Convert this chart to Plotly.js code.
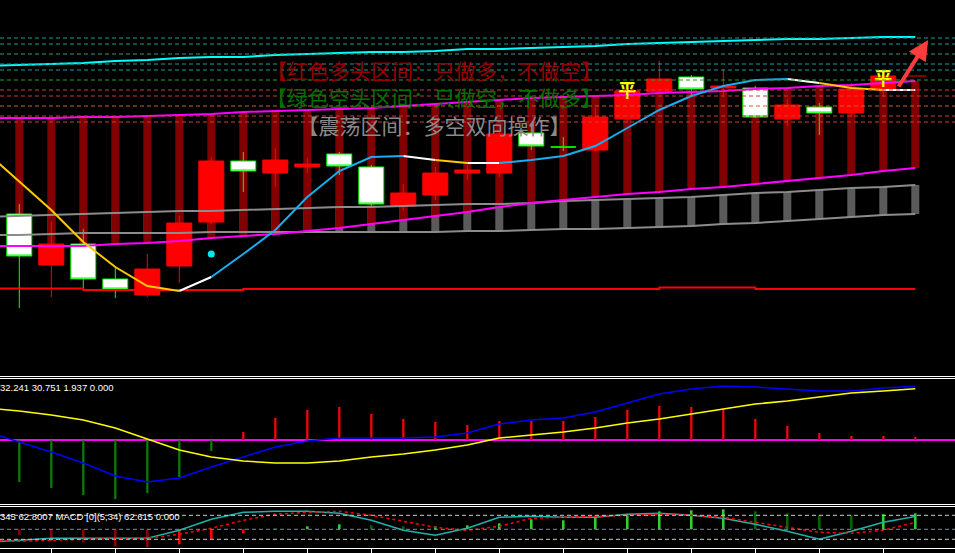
<!DOCTYPE html>
<html><head><meta charset="utf-8">
<script src="https://cdn.plot.ly/plotly-3.0.1.min.js"></script>
<style>html,body{margin:0;padding:0;background:#000;overflow:hidden}#chart{width:955px;height:553px}</style>
</head><body><div id="chart"></div>
<script>
// ---------- data ----------
const idx = [-1,0,1,2,3,4,5,6,7,8,9,10,11,12,13,14,15,16,17,18,19,20,21,22,23,24,25,26,27,28];
const candleIdx = [0,1,2,3,4,5,6,7,8,9,10,11,12,13,14,15,16,17,18,19,20,21,22,23,24,25,26,27];
const open  = [161,110,131, 96, 80,109,153,214,202,208,221,208,169,180,202,202,242,228,225,256,283,298,287,287,256,268,262,286];
const high  = [171,153,146,108,121,159,218,223,227,217,223,210,191,208,210,243,252,238,267,292,314,300,306,289,276,272,292,305];
const low   = [ 67, 78, 87, 77, 78, 92,151,183,188,202,200,168,164,175,195,198,225,224,223,252,282,280,280,257,249,240,258,278];
const close = [119,131, 96, 86,106,152,214,204,215,211,209,171,182,202,205,241,229,228,258,284,296,286,289,258,270,262,286,299];

const cyanBand     = [309,310,311,312,314,315,317,318,318,320,321,322,323,323,324,326,326,327,328,329,331,332,333,334,335,336,336,337,338,338];
const magentaUpper = [257,257,257,258,258,259,260,261,263,264,265,266,267,269,271,273,275,277,278,279,280,282,283,284,286,287,289,290,292,294];
const magentaLower = [129,129,129,129,131,132,134,137,139,141,144,147,151,155,159,163,168,172,175,178,181,183,186,188,191,194,197,200,204,207];
const grayUpper    = [158,159,160,161,162,163,164,164,165,166,167,168,168,169,170,171,171,172,174,175,176,177,178,180,182,183,185,187,188,190];
const grayLower    = [140,140,141,142,142,142,142,143,143,143,143,143,143,143,143,144,144,145,146,146,147,148,149,151,152,154,156,158,160,161];
const supportLine  = [86.5,86.5,86.5,85,85,85,85,85,86,86,86,86,86,86,86,86,86,86,86,86,86,87.5,87.5,87.5,86,86,86,86,86,86];
const ma           = [222,193,165,133,108,89,84,98,121,145,178,204,218,219,215,212,212,215,219,229,247,265,279,289,295,296,292,287,285,285];
const maTrend = 'YYYYYYWBBBBBBWYWBBBBBBBBBWYYW'; // colour state of each segment
const signalDotIdx = [6], signalDotLevel = [121];
const pingIdx = [19,27], pingLevel = [283,295];
const mainLevels = [337,331,321,311,305,295,285,279,269,259,253];

const macd   = [4.8,-1.2,-7.2,-13.8,-21.6,-25.2,-22.8,-16.2,-10.2,-4.2,-0.6,1.2,1.2,1.2,1.8,4.2,9.6,12.0,13.2,16.8,22.2,27.6,30.6,32.4,31.8,30.6,29.4,29.4,31.2,32.241];
const signal = [19.2,17.4,15.0,12.0,7.2,0.6,-6.0,-10.2,-12.6,-13.8,-13.8,-12.6,-10.2,-8.4,-6.0,-3.0,1.2,3.0,4.8,7.2,10.2,12.6,15.6,18.6,21.6,23.4,25.8,28.2,29.4,30.751];
const hist   = [-20,-25.2,-28.8,-33.0,-35.4,-31.8,-22.2,-6.6,4.8,13.2,18.0,19.8,15.6,12.6,10.8,9.0,11.4,11.4,11.4,13.8,18.0,20.4,19.8,18.6,12.6,8.4,4.2,2.4,2.4,1.937];

const osc       = [37,39,41,41,41,41,49,60,67,68,68,66,59,49,44,51,62,63,62,62,65,66,64,61,55,48,40,48,57,62.8007];
const oscSignal = [39,38,39,40,41,41,45,51,59,65,67,68,64,58,52,49,53,61,62,63,64,65,64,62,57,52,47,46,49,57];
const oscHist   = [-3,-6,-12,-13,-17,-18,-15,-10,-4,1,3,5,4,3,3,4,6,10,9,13,14,18,19,20,18,16,14,14,15,16];
const oscState  = 'DDDDDDUUUgGGggGGGGGGGGGGggggGG';
const oscLevels = [64,50,40];
const oscBase = 50;
const tickIdx = [1,3,5,7,9,11,13,15,17,19,21,23,25,27];

const textLines = ['【红色多头区间：只做多，不做空】','【绿色空头区间：只做空，不做多】','【震荡区间：多空双向操作】'];
const macdLabel = '32.241 30.751 1.937 0.000';
const oscLabel  = '345 62.8007 MACD [0](5,34) 62.615 0.000';

// ---------- styles ----------
const levelColors = ['#1a9a9a','#1a9a9a','#3a9a72','#1a9a9a','#1a9a9a','#28a028','#c83c3c','#c83c3c','#c0642e','#c83c3c','#c83c3c'];
const textColors = ['#960000','#007000','#8a8a8a'];
const maColors = {Y:'#ffc800', W:'#ffffff', B:'#18aef0'};
const oscColors = {D:'#8b0000', U:'#ff0000', g:'#006400', G:'#32cd32'};
const H = 553;
const py = px => 1 - px / H;
const CJK = 'Noto Sans CJK SC';

const sub = (a, b) => a.map((v, i) => v - b[i]);

function segTrace(c) {
  const xs = [], ys = [];
  let on = false;
  for (let j = 0; j < maTrend.length; j++) {
    if (maTrend[j] === c) {
      if (!on) { if (xs.length) { xs.push(null); ys.push(null); } xs.push(idx[j]); ys.push(ma[j]); on = true; }
      xs.push(idx[j + 1]); ys.push(ma[j + 1]);
    } else on = false;
  }
  return {type:'scatter', mode:'lines', x:xs, y:ys, line:{color:maColors[c], width:2}, connectgaps:false, xaxis:'x', yaxis:'y'};
}
const lineT = (y, color, width, ax, extra) => Object.assign({type:'scatter', mode:'lines', x:idx, y:y, line:{color:color, width:width}, xaxis:'x', yaxis:ax}, extra || {});

const last = candleIdx.length - 1;
const traces = [
  {type:'bar', x:idx, base:grayLower, y:sub(grayUpper, grayLower), width:0.25, marker:{color:'#5a5a5a', line:{width:0}}, xaxis:'x', yaxis:'y'},
  {type:'bar', x:idx, base:magentaLower, y:sub(magentaUpper, magentaLower), width:0.25, marker:{color:'#820000', line:{width:0}}, xaxis:'x', yaxis:'y'},
  {type:'bar', x:idx, y:hist, width:0.07, marker:{color:hist.map(v => v < 0 ? '#008000' : '#ff0000'), line:{width:0}}, xaxis:'x', yaxis:'y2'},
  {type:'bar', x:idx, base:oscBase, y:oscHist, width:0.08, marker:{color:oscState.split('').map(s => oscColors[s]), line:{width:0}}, xaxis:'x', yaxis:'y3'},
  {type:'candlestick', x:candleIdx, open:open, high:high, low:low, close:close, whiskerwidth:0,
   increasing:{line:{color:'#ff0000', width:1}, fillcolor:'#ff0000'},
   decreasing:{line:{color:'#00ff00', width:1}, fillcolor:'#ffffff'}, xaxis:'x', yaxis:'y'},
  lineT(grayUpper, '#8c8c8c', 2, 'y'),
  lineT(grayLower, '#8c8c8c', 2, 'y'),
  lineT(magentaUpper, '#ff00ff', 2, 'y'),
  lineT(magentaLower, '#ff00ff', 2, 'y'),
  lineT(cyanBand, '#00ffff', 2, 'y'),
  lineT(supportLine, '#ff0000', 2, 'y', {line:{color:'#ff0000', width:2, shape:'hv'}}),
  segTrace('W'), segTrace('Y'), segTrace('B'),
  {type:'scatter', mode:'markers', x:signalDotIdx, y:signalDotLevel, marker:{color:'#00e8e8', size:7}, xaxis:'x', yaxis:'y'},
  {type:'scatter', mode:'text', x:pingIdx, y:pingLevel, text:pingIdx.map(() => '平'), textposition:'middle center',
   textfont:{family:CJK, size:18, color:'#ffff00', weight:'bold'}, xaxis:'x', yaxis:'y'},
  {type:'scatter', mode:'lines', x:[candleIdx[last] + 0.65, candleIdx[last] + 1.35], y:[close[last], close[last]], line:{color:'#ff0000', width:1}, xaxis:'x', yaxis:'y'},
  lineT(macd, '#0000ff', 1.5, 'y2'),
  lineT(signal, '#ffff00', 1.5, 'y2'),
  lineT(osc, '#20b2aa', 1.5, 'y3'),
  lineT(oscSignal, '#ff0000', 1.5, 'y3', {line:{color:'#ff0000', width:1.5, dash:'3px,3px'}})
];

const shapes = [];
mainLevels.forEach((v, k) => shapes.push({type:'line', xref:'paper', x0:0, x1:1, yref:'y', y0:v, y1:v, line:{color:levelColors[k], width:1, dash:'4px,3px'}}));
oscLevels.forEach((v, k) => shapes.push({type:'line', xref:'paper', x0:0, x1:1, yref:'y3', y0:v, y1:v, line:{color:k === 1 ? '#7a8a9a' : '#c8c8c8', width:1, dash:'4px,3px'}}));
[376.5, 378.5, 504.5, 506.5].forEach(p => shapes.push({type:'line', xref:'paper', x0:0, x1:1, yref:'paper', y0:py(p), y1:py(p), line:{color:'#ffffff', width:1}}));

const zoneText = textLines.map((t, k) => '<span style="color:' + textColors[k] + '">' + t + '</span>').join('<br>');

const annotations = [
  {xref:'paper', yref:'paper', x:434/955, y:py(97), xanchor:'center', yanchor:'middle', align:'center', showarrow:false,
   text:zoneText, font:{family:CJK, size:21, color:'#960000'}},
  {xref:'paper', yref:'paper', x:-2/955, y:py(387), xanchor:'left', yanchor:'middle', showarrow:false, text:macdLabel, font:{family:'Liberation Sans', size:9.5, color:'#ffffff'}},
  {xref:'paper', yref:'paper', x:-2/955, y:py(516), xanchor:'left', yanchor:'middle', showarrow:false, text:oscLabel, font:{family:'Liberation Sans', size:9.5, color:'#ffffff'}},
  {xref:'x', yref:'y', x:candleIdx[last] + 1.4, y:cyanBand[cyanBand.length - 1] - 3, axref:'x', ayref:'y', ax:candleIdx[last] + 0.45, ay:ma[ma.length - 1] + 2,
   showarrow:true, text:'', arrowhead:2, arrowsize:1, arrowwidth:4, arrowcolor:'#ff3c3c', standoff:0, startstandoff:0}
];

const layout = {
  width:955, height:553, margin:{l:0, r:0, t:0, b:0, pad:0},
  paper_bgcolor:'#000', plot_bgcolor:'#000', showlegend:false, barmode:'overlay', boxgap:0.22, boxgroupgap:0,
  font:{family:'Liberation Sans', color:'#fff'},
  xaxis:{anchor:'y3', range:[-19.3/32, (955 - 19.3)/32], showgrid:false, zeroline:false, showline:true, linecolor:'#ffffff', linewidth:1,
         ticks:'outside', tickmode:'array', tickvals:tickIdx, ticklen:4, tickcolor:'#ffffff', tickwidth:1, showticklabels:false, rangeslider:{visible:false}, fixedrange:true},
  yaxis:{domain:[py(375), 1], range:[0, 375], anchor:'x', showgrid:false, zeroline:false, showticklabels:false, fixedrange:true},
  yaxis2:{domain:[py(503), py(379)], range:[-37.8, 36.6], anchor:'x', showgrid:false, zeroline:true, zerolinecolor:'#ff00ff', zerolinewidth:2, showticklabels:false, fixedrange:true},
  yaxis3:{domain:[py(548), py(508)], range:[31.3, 71.3], anchor:'x', showgrid:false, zeroline:false, showticklabels:false, fixedrange:true},
  shapes:shapes, annotations:annotations
};

Plotly.newPlot('chart', traces, layout, {staticPlot:true, displayModeBar:false});
</script></body></html>
